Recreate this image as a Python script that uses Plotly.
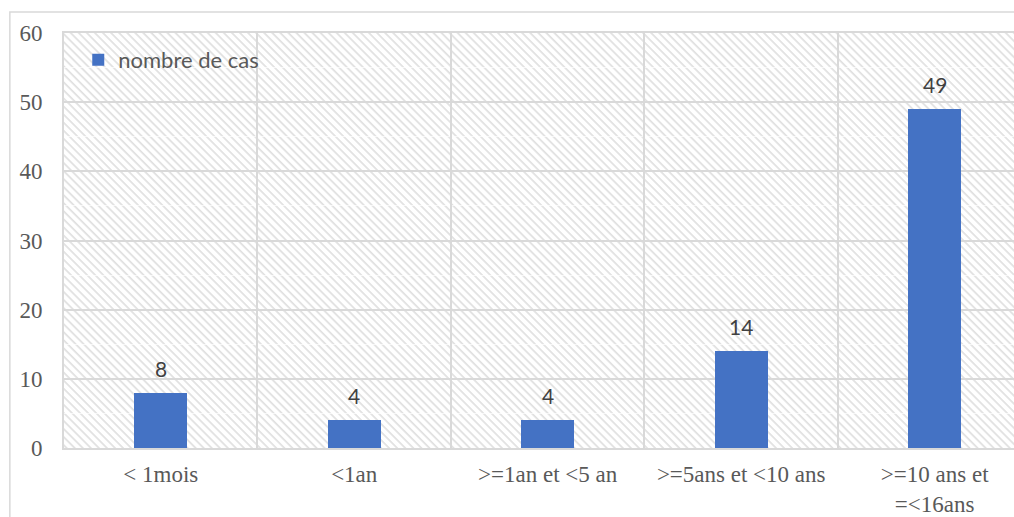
import plotly.graph_objects as go

categories = ["< 1mois", "<1an", ">=1an et <5 an", ">=5ans et <10 ans", ">=10 ans et<br>=<16ans"]
cases = [8, 4, 4, 14, 49]
series_name = "nombre de cas"
y_ticks = [0, 10, 20, 30, 40, 50, 60]

BAR = "#4472C4"
GRID = "#D9D9D9"
AXIS_TEXT = "#595959"
LABEL_TEXT = "#404040"

# diagonal hatching for the plot background
hatch_svg = (
    "<svg xmlns='http://www.w3.org/2000/svg' width='950' height='415'>"
    "<defs><pattern id='h' width='5.7' height='5.7' patternUnits='userSpaceOnUse' "
    "patternTransform='rotate(45)'>"
    "<rect x='0' y='0' width='5.7' height='1.7' fill='%23E0E0E0'/></pattern></defs>"
    "<rect width='100%' height='100%' fill='white'/>"
    "<rect width='100%' height='100%' fill='url(%23h)'/></svg>"
)

fig = go.Figure()
fig.add_trace(go.Bar(
    x=categories, y=cases, name=series_name,
    marker=dict(color=BAR, line=dict(width=0)),
    width=0.272, showlegend=True, hoverinfo="x+y",
))

for c, v in zip(categories, cases):
    fig.add_annotation(
        x=c, y=v, text=str(v), showarrow=False,
        yanchor="bottom", yshift=10,
        font=dict(family="Lato", size=21, color=LABEL_TEXT),
    )

fig.add_layout_image(dict(
    source="data:image/svg+xml;utf8," + hatch_svg,
    xref="paper", yref="paper", x=0, y=1, sizex=1, sizey=1,
    xanchor="left", yanchor="top", sizing="stretch", layer="below",
))

# outer chart frame
fig.add_shape(type="rect", xref="paper", yref="paper",
              x0=-0.057, x1=1.2, y0=-0.4, y1=1.0506,
              line=dict(color=GRID, width=1.5), fillcolor="rgba(0,0,0,0)", layer="below")

fig.update_layout(
    width=1014, height=517,
    margin=dict(l=64, r=0, t=33, b=69, autoexpand=False),
    paper_bgcolor="white",
    plot_bgcolor="rgba(0,0,0,0)",
    bargap=0,
    showlegend=True,
    legend=dict(
        x=0.015, y=0.935, xanchor="left", yanchor="middle",
        bgcolor="rgba(0,0,0,0)", borderwidth=0,
        font=dict(family="Lato", size=22, color=AXIS_TEXT),
        itemwidth=30,
    ),
    xaxis=dict(
        type="category", range=[-0.5, 4.41], automargin=False,
        tickson="boundaries", showgrid=True, gridcolor=GRID, gridwidth=2,
        showline=True, linecolor=GRID, linewidth=2, mirror=True,
        ticks="", ticklabelstandoff=4,
        tickfont=dict(family="Liberation Serif", size=23, color=AXIS_TEXT),
        zeroline=False, fixedrange=True,
    ),
    yaxis=dict(
        range=[0, 60], tickvals=y_ticks, automargin=False,
        showgrid=True, gridcolor=GRID, gridwidth=2,
        minor=dict(dtick=5, showgrid=True, gridcolor="rgba(255,255,255,0.7)", gridwidth=1),
        showline=True, linecolor=GRID, linewidth=2, mirror=True,
        ticks="outside", ticklen=15, tickcolor="rgba(0,0,0,0)",
        tickfont=dict(family="Liberation Serif", size=23, color=AXIS_TEXT),
        zeroline=False, fixedrange=True,
    ),
)

fig.write_html("out.html")
